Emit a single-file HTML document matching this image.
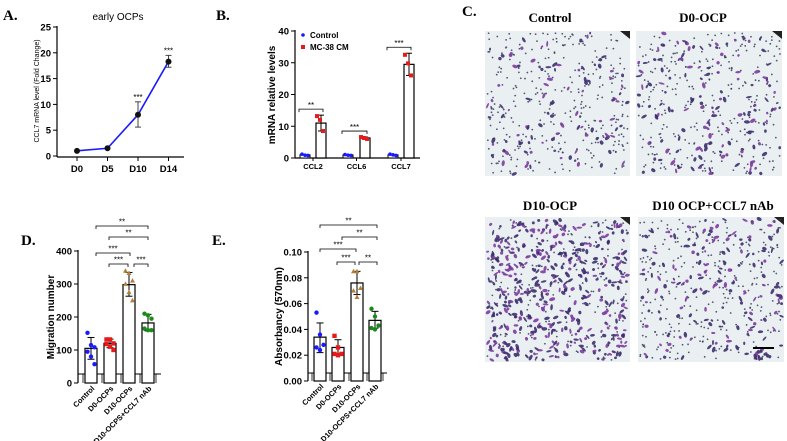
<!DOCTYPE html>
<html><head><meta charset="utf-8">
<style>
html,body{margin:0;padding:0;background:#fff;}
svg{display:block;font-family:"Liberation Sans",sans-serif;}
.lbl{font-family:"Liberation Serif",serif;font-weight:bold;}
</style></head>
<body>
<svg id="fig" width="787" height="441" viewBox="0 0 787 441" xmlns="http://www.w3.org/2000/svg">
<text class="lbl" x="3" y="20" font-size="15">A.</text>
<text class="lbl" x="216" y="20" font-size="15">B.</text>
<text class="lbl" x="462" y="16" font-size="15">C.</text>
<text class="lbl" x="21" y="245" font-size="15">D.</text>
<text class="lbl" x="212" y="245" font-size="15">E.</text>
<g id="gA"></g>
<g id="gB"></g>
<g id="gD"></g>
<g id="gE"></g>
<g id="gC"></g>
</svg>
<script>
// ---- Panel A data
const aCats = ["D0","D5","D10","D14"];
const aVals = [1, 1.5, 8, 18.3];
const aErrLo = [1, 1.5, 5.6, 17.2];
const aErrHi = [1, 1.5, 10.5, 19.5];
const aStars = ["", "", "***", "***"];
const aTicks = [0,5,10,15,20,25];
// ---- Panel B data
const bCats = ["CCL2","CCL6","CCL7"];
const bCtrl = [1, 1, 1];
const bMC = [11, 6.3, 29.5];
const bMCLo = [8.5, 6.0, 26];
const bMCHi = [13.5, 6.6, 33];
const bCtrlPts = [[1.2,0.9,0.8],[1.1,0.9,0.8],[1.2,1.0,0.8]];
const bMCPts = [[13.2,12,8.5],[6.6,6.3,6.0],[32.5,29.8,26]];
const bStars = ["**","***","***"];
const bTicks = [0,10,20,30,40];
// ---- Panel D data
const dCats = ["Control","D0-OCPs","D10-OCPs","D10-OCPS+CCL7 nAb"];
const dVals = [105, 120, 298, 182];
const dLo = [72, 107, 263, 158];
const dHi = [138, 133, 335, 208];
const dPts = [[152,115,108,95,80,57],[132,132,120,118,110,100],[340,333,310,300,275,250],[210,205,195,165,160,160]];
const dTicks = [0,100,200,300,400];
// ---- Panel E data
const eCats = ["Control","D0-OCPs","D10-OCPs","D10-OCPS+CCL7 nAb"];
const eVals = [0.034, 0.026, 0.076, 0.047];
const eLo = [0.022, 0.020, 0.067, 0.041];
const eHi = [0.045, 0.032, 0.085, 0.054];
const ePts = [[0.053,0.036,0.028,0.026,0.024],[0.035,0.026,0.021,0.021,0.020],[0.085,0.085,0.072,0.070,0.065],[0.056,0.050,0.043,0.041,0.040]];
const eTicks = [0,0.02,0.04,0.06,0.08,0.10];
const eTickLabels = ["0.00","0.02","0.04","0.06","0.08","0.10"];

const NS="http://www.w3.org/2000/svg";
function mk(parent,tag,attrs,text){const e=document.createElementNS(NS,tag);for(const k in attrs)e.setAttribute(k,attrs[k]);if(text!==undefined)e.textContent=text;parent.appendChild(e);return e;}

// ===== Panel A
(function(){
const g=document.getElementById('gA');
const y=v=>156-(v/25)*129, x=i=>77+i*30.5;
mk(g,'text',{x:118,y:20,'font-size':10,'text-anchor':'middle'},'early OCPs');
mk(g,'line',{x1:57,y1:26,x2:57,y2:157,stroke:'#000','stroke-width':1.2});
mk(g,'line',{x1:57,y1:157,x2:184,y2:157,stroke:'#000','stroke-width':1.2});
aTicks.forEach(t=>{mk(g,'line',{x1:53,y1:y(t),x2:57,y2:y(t),stroke:'#000'});
 const tx=mk(g,'text',{x:51,y:y(t)+3.5,'font-size':9.5,'font-weight':'bold','text-anchor':'end'},t);
 });
aCats.forEach((c,i)=>{mk(g,'line',{x1:x(i),y1:157,x2:x(i),y2:161,stroke:'#000'});
 const t=mk(g,'text',{x:x(i),y:172,'font-size':9.5,'font-weight':'bold','text-anchor':'middle'},c);
 });
const yt=mk(g,'text',{transform:'translate(39,91) rotate(-90)','font-size':7,'text-anchor':'middle'},'CCL7 mRNA level (Fold Change)');

mk(g,'polyline',{points:aVals.map((v,i)=>x(i)+','+y(v)).join(' '),fill:'none',stroke:'#1a1aff','stroke-width':1.6});
aVals.forEach((v,i)=>{
 if(aErrHi[i]>aErrLo[i]){mk(g,'line',{x1:x(i),y1:y(aErrLo[i]),x2:x(i),y2:y(aErrHi[i]),stroke:'#444'});
  mk(g,'line',{x1:x(i)-3,y1:y(aErrLo[i]),x2:x(i)+3,y2:y(aErrLo[i]),stroke:'#444'});
  mk(g,'line',{x1:x(i)-3,y1:y(aErrHi[i]),x2:x(i)+3,y2:y(aErrHi[i]),stroke:'#444'});}
 const c=mk(g,'circle',{cx:x(i),cy:y(v),r:3,fill:'#111'});
 if(aStars[i])mk(g,'text',{x:x(i),y:y(aErrHi[i])-2,'font-size':8,'text-anchor':'middle'},aStars[i]);
});
})();

// ===== Panel B
(function(){
const g=document.getElementById('gB');
const y=v=>158-(v/40)*127;
const cx=[305,348,393], mx=[321,365,409], bw=10;
mk(g,'line',{x1:295,y1:30,x2:295,y2:158,stroke:'#000','stroke-width':1.2});
mk(g,'line',{x1:295,y1:158,x2:420,y2:158,stroke:'#000','stroke-width':1.2});
bTicks.forEach(t=>{mk(g,'line',{x1:291,y1:y(t),x2:295,y2:y(t),stroke:'#000'});
 const tx=mk(g,'text',{x:289,y:y(t)+3.5,'font-size':9.5,'font-weight':'bold','text-anchor':'end'},t);});
const yt=mk(g,'text',{transform:'translate(275,95) rotate(-90)','font-size':10,'font-weight':'bold','text-anchor':'middle'},'mRNA relative levels');
bCats.forEach((c,i)=>{
 const tx=mk(g,'text',{x:(cx[i]+mx[i])/2,y:169,'font-size':7.5,'font-weight':'bold','text-anchor':'middle'},c);
 mk(g,'line',{x1:(cx[i]+mx[i])/2,y1:158,x2:(cx[i]+mx[i])/2,y2:161,stroke:'#000'});
 const b1=mk(g,'rect',{x:cx[i]-bw/2,y:y(bCtrl[i]),width:bw,height:158-y(bCtrl[i]),fill:'#fff',stroke:'#000'});
 const b2=mk(g,'rect',{x:mx[i]-bw/2,y:y(bMC[i]),width:bw,height:158-y(bMC[i]),fill:'#fff',stroke:'#000','stroke-width':1.2});
 mk(g,'line',{x1:mx[i],y1:y(bMCLo[i]),x2:mx[i],y2:y(bMCHi[i]),stroke:'#000'});
 mk(g,'line',{x1:mx[i]-3,y1:y(bMCHi[i]),x2:mx[i]+3,y2:y(bMCHi[i]),stroke:'#000'});
 mk(g,'line',{x1:mx[i]-3,y1:y(bMCLo[i]),x2:mx[i]+3,y2:y(bMCLo[i]),stroke:'#000'});
 bCtrlPts[i].forEach((p,j)=>{const c=mk(g,'circle',{cx:cx[i]-3+j*3,cy:y(p),r:1.8,fill:'#1a1aff'});});
 bMCPts[i].forEach((p,j)=>{const r=mk(g,'rect',{x:mx[i]-4+j*3-2,y:y(p)-2,width:4,height:4,fill:'#e51b1b'});});
 const top=y(bMCHi[i])-6;
 mk(g,'path',{d:`M${cx[i]-6},${top+3}V${top}H${mx[i]+2}V${top+3}`,fill:'none',stroke:'#000','stroke-width':0.8});
 mk(g,'text',{x:(cx[i]-6+mx[i]+2)/2,y:top-1,'font-size':8,'text-anchor':'middle'},bStars[i]);
});
mk(g,'circle',{cx:303,cy:35,r:1.8,fill:'#1a1aff'});
mk(g,'text',{x:310,y:38,'font-size':8,'font-weight':'bold'},'Control');
mk(g,'rect',{x:301,y:45,width:4,height:4,fill:'#e51b1b'});
mk(g,'text',{x:310,y:50,'font-size':8,'font-weight':'bold'},'MC-38 CM');
})();

// ===== Bar + scatter panels D and E
function barPanel(gid,cats,vals,lo,hi,pts,ticks,tickLbls,ax,top,bottom,maxV,xs,bw,baseY,lineEnd,title,titleX,brackets,fmtFS){
const g=document.getElementById(gid);
const y=v=>bottom-(v/maxV)*(bottom-top);
const cols=['#1a1aff','#e51b1b','#b07f3a','#1a8a1a'];
mk(g,'line',{x1:ax,y1:top-1,x2:ax,y2:bottom,stroke:'#000','stroke-width':1.2});
ticks.forEach((t,k)=>{mk(g,'line',{x1:ax-4,y1:y(t),x2:ax,y2:y(t),stroke:'#000'});
 const tx=mk(g,'text',{x:ax-6,y:y(t)+3.5,'font-size':fmtFS,'font-weight':'bold','text-anchor':'end'},tickLbls?tickLbls[k]:t);});
const yt=mk(g,'text',{transform:`translate(${titleX},${(top+bottom)/2}) rotate(-90)`,'font-size':10,'font-weight':'bold','text-anchor':'middle'},title);
mk(g,'line',{x1:ax,y1:baseY,x2:lineEnd,y2:baseY,stroke:'#000','stroke-width':1});
cats.forEach((c,i)=>{
 const x=xs[i];
 mk(g,'line',{x1:x-bw/2-2,y1:baseY,x2:x-bw/2-2,y2:bottom,stroke:'#000','stroke-width':0.8});
 const b=mk(g,'rect',{x:x-bw/2,y:y(vals[i]),width:bw,height:bottom-y(vals[i]),fill:'#fff',stroke:'#000','stroke-width':1.2});
 mk(g,'line',{x1:x,y1:y(lo[i]),x2:x,y2:y(hi[i]),stroke:'#000'});
 mk(g,'line',{x1:x-3.5,y1:y(lo[i]),x2:x+3.5,y2:y(lo[i]),stroke:'#000'});
 mk(g,'line',{x1:x-3.5,y1:y(hi[i]),x2:x+3.5,y2:y(hi[i]),stroke:'#000'});
 pts[i].forEach((p,j)=>{const off=((j%3)-1)*3.5;let m;
  if(i==0)m=mk(g,'circle',{cx:x+off,cy:y(p),r:2.2,fill:cols[0]});
  else if(i==1)m=mk(g,'rect',{x:x+off-2.2,y:y(p)-2.2,width:4.4,height:4.4,fill:cols[1]});
  else if(i==2)m=mk(g,'path',{d:`M${x+off},${y(p)-2.6}l2.5,4.5h-5z`,fill:cols[2]});
  else m=mk(g,'circle',{cx:x+off,cy:y(p),r:2.2,fill:cols[3]});
  });
 const tx=mk(g,'text',{transform:`translate(${x+4},${bottom+6}) rotate(-45)`,'font-size':7.5,'font-weight':'bold','text-anchor':'end'},c);
});
mk(g,'line',{x1:xs[3]+bw/2+2,y1:baseY,x2:xs[3]+bw/2+2,y2:bottom,stroke:'#000','stroke-width':0.8});
brackets.forEach(b=>{mk(g,'path',{d:`M${b[0]},${b[2]+3}V${b[2]}H${b[1]}V${b[2]+3}`,fill:'none',stroke:'#000','stroke-width':0.8});
 mk(g,'text',{x:(b[0]+b[1])/2,y:b[2]-1.5,'font-size':8,'text-anchor':'middle'},b[3]);});
}
barPanel('gD',dCats,dVals,dLo,dHi,dPts,dTicks,null,78,251,383,400,[91,110,129,148],12,374,161,'Migration number',54,
 [[96,148,226,'**'],[109,148,237,'**'],[96,130,253,'***'],[109,128,264,'***'],[134,148,264,'***']],9.5);
barPanel('gE',eCats,eVals,eLo,eHi,ePts,eTicks,eTickLabels,308,252,381,0.10,[320,338,357,375],12,373,387,'Absorbancy (570nm)',282,
 [[320,377,225,'**'],[342,377,237,'**'],[320,356,249,'***'],[337,355,262,'***'],[359,377,262,'**']],9.5);

// ===== Panel C micrographs (texture)
(function(){
const g=document.getElementById('gC');
const panels=[
 {x:485,y:31,w:145,h:145,t:'Control',tx:550,ty:22,n:420,big:0.25},
 {x:636,y:31,w:146,h:145,t:'D0-OCP',tx:703,ty:22,n:440,big:0.35},
 {x:485,y:217,w:145,h:145,t:'D10-OCP',tx:550,ty:210,n:650,big:0.7},
 {x:638,y:217,w:146,h:145,t:'D10 OCP+CCL7 nAb',tx:713,ty:210,n:480,big:0.4}];
let s=12345;const rnd=()=>{s=(s*1103515245+12345)%2147483648;return s/2147483648;};
panels.forEach((p,k)=>{
 const r=mk(g,'rect',{x:p.x,y:p.y,width:p.w,height:p.h,fill:'#eaf0f2'});
 mk(g,'path',{d:`M${p.x+p.w-10},${p.y}h10v8z`,fill:'#222'});
 for(let i=0;i<p.n;i++){
  const cx=p.x+2+rnd()*(p.w-4), cy=p.y+2+rnd()*(p.h-4);
  if(rnd()<p.big){mk(g,'ellipse',{cx,cy,rx:1.2+rnd()*2,ry:0.9+rnd()*0.9,transform:`rotate(${rnd()*180} ${cx} ${cy})`,fill:rnd()<0.6?'#3d2f6e':'#7d3c9e',opacity:0.9});}
  else mk(g,'circle',{cx,cy,r:0.9,fill:'#3a3a5a',opacity:0.85});
 }
 const t=mk(g,'text',{x:p.tx,y:p.ty,'font-size':13,'font-weight':'bold','text-anchor':'middle','font-family':'Liberation Serif, serif'},p.t);
 
});
mk(g,'rect',{x:753,y:347,width:21,height:2,fill:'#000'});
})();
</script>
</body></html>
